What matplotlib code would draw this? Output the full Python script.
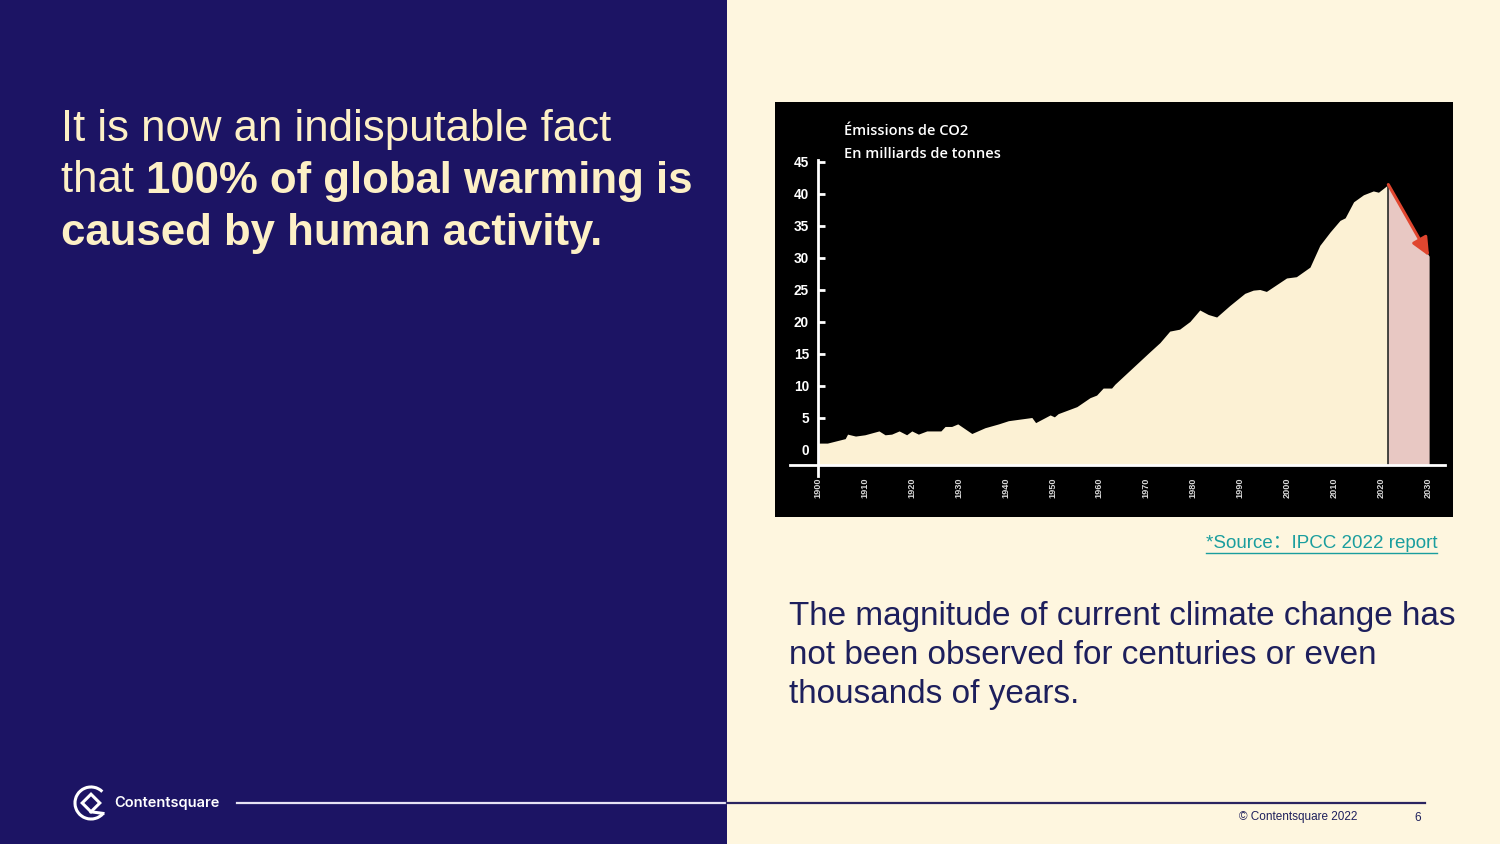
import matplotlib
matplotlib.use("Agg")
import matplotlib.pyplot as plt
from matplotlib.patches import Rectangle, Arc, Polygon

# ---------------- data ----------------
years = [1900, 1902, 1905.8, 1906.3, 1908, 1910, 1913, 1914.3, 1915.7, 1917.3,
         1918.9, 1920, 1921.4, 1923.2, 1926.2, 1927.1, 1928.5, 1929.8, 1932.8,
         1935.6, 1938.5, 1940.6, 1945.6, 1946.4, 1949.5, 1950.4, 1951.2, 1955.2,
         1958, 1959.4, 1960.8, 1962.6, 1963.3, 1970.8, 1972.9, 1975, 1977.1,
         1979.3, 1981.4, 1983.2, 1985, 1987.8, 1991, 1992.8, 1994.2, 1995.6,
         1999.9, 2002, 2004.9, 2007, 2009.2, 2011.3, 2012.4, 2014.2, 2016.3,
         2018.4, 2019.5, 2021.6]
emissions = [1.0, 1.0, 1.7, 2.4, 2.1, 2.3, 2.9, 2.3, 2.4, 2.9,
             2.3, 2.9, 2.4, 2.9, 2.9, 3.6, 3.6, 4.0, 2.5,
             3.4, 4.0, 4.5, 5.0, 4.2, 5.4, 5.1, 5.6, 6.7,
             8.1, 8.5, 9.6, 9.6, 10.2, 15.3, 16.7, 18.5, 18.8,
             20.0, 21.8, 21.1, 20.7, 22.5, 24.4, 24.9, 25.0, 24.7,
             26.8, 27.0, 28.5, 31.9, 34.0, 35.8, 36.2, 38.7, 39.8,
             40.4, 40.2, 41.4]
proj_years = [2021.6, 2030.3]
proj_values = [41.4, 30.2]
x_ticks = list(range(1900, 2031, 10))
y_ticks = list(range(0, 46, 5))

W, H = 1500, 844
NAVY = "#1c1464"
CREAM_BG = "#fef6df"
CREAM_TXT = "#fdf0c6"

fig = plt.figure(figsize=(15, 8.44), dpi=100)
fig.patch.set_facecolor(CREAM_BG)

def fx(x): return x / W
def fy(y): return 1 - y / H

# left navy panel
fig.patches.append(Rectangle((0, 0), fx(727), 1, transform=fig.transFigure,
                             facecolor=NAVY, edgecolor="none", zorder=-10))

# ---------------- chart ----------------
bx0, by0, bx1, by1 = 775, 102, 1453, 517
ax = fig.add_axes([fx(bx0), fy(by1), fx(bx1 - bx0), (by1 - by0) / H])
ax.set_facecolor("black")
px_per_year = 4.69
px_per_unit = 6.4
x0px, y0px = 818, 449.5
ax.set_xlim(1900 - (x0px - bx0) / px_per_year, 1900 + (bx1 - x0px) / px_per_year)
ax.set_ylim(-(by1 - y0px) / px_per_unit, (y0px - by0) / px_per_unit)
baseline = -(465 - y0px) / px_per_unit

FILL = "#fcf1d4"
ax.fill_between(years, emissions, baseline, color=FILL, lw=0, zorder=2)
ax.fill_between(proj_years, proj_values, baseline, color="#e8c8c3", lw=0, zorder=2)
ax.plot([proj_years[0], proj_years[0]], [baseline, proj_values[0]],
        color="#2a2a2a", lw=1.2, zorder=3)
ax.annotate("", xy=(proj_years[1], proj_values[1]), xytext=(proj_years[0], proj_values[0]),
            arrowprops=dict(arrowstyle="-|>,head_length=1.1,head_width=0.5",
                            color="#e0462f", lw=2.2, shrinkA=0, shrinkB=0), zorder=4)

for s in ["top", "right"]:
    ax.spines[s].set_visible(False)
ax.spines["left"].set_position(("data", 1900))
ax.spines["left"].set_bounds(-(476 - y0px) / px_per_unit, 45.3)
ax.spines["bottom"].set_position(("data", baseline))
ax.spines["bottom"].set_bounds(1900 - (818 - 790) / px_per_year, 1900 + (1445 - 818) / px_per_year)
for s in ["left", "bottom"]:
    ax.spines[s].set_color("white")
    ax.spines[s].set_linewidth(2)
    ax.spines[s].set_zorder(5)

FONT = "Liberation Sans"
ax.set_yticks(y_ticks)
ax.set_yticklabels([str(v) for v in y_ticks], fontsize=9.8, fontweight="bold",
                   color="white", family=FONT)
ax.tick_params(axis="y", direction="in", length=5, width=2, color="white", pad=6.5)
ax.set_xticks(x_ticks)
ax.set_xticklabels([str(v) for v in x_ticks], rotation=90, fontsize=6.6,
                   fontweight="bold", color="#d8d8d8", family=FONT)
ax.tick_params(axis="x", length=0, pad=9)

ax.text(1905.5, (y0px - 131) / px_per_unit, "Émissions de CO2", color="white", fontsize=10.5,
        family="Open Sans", fontweight="semibold", va="center", ha="left")
ax.text(1905.5, (y0px - 154) / px_per_unit, "En milliards de tonnes", color="white", fontsize=10.5,
        family="Open Sans", fontweight="semibold", va="center", ha="left")

# ---------------- texts ----------------
LS = 31.5
fig.text(fx(61), fy(129), "It is now an indisputable fact", color=CREAM_TXT,
         fontsize=LS, family=FONT, va="center", ha="left")
t1 = fig.text(fx(61), fy(181), "that ", color=CREAM_TXT, fontsize=LS,
              family=FONT, va="center", ha="left")
renderer = fig.canvas.get_renderer()
bb = t1.get_window_extent(renderer)
fig.text(bb.x1 / W, fy(181), "100% of global warming is", color=CREAM_TXT,
         fontsize=LS, family=FONT, fontweight="bold", va="center", ha="left")
fig.text(fx(61), fy(233), "caused by human activity.", color=CREAM_TXT,
         fontsize=LS, family=FONT, fontweight="bold", va="center", ha="left")

src = fig.text(fx(1437), fy(544), "*Source：IPCC 2022 report", color="#1a9e9e",
               fontsize=13.5, family=[FONT, "Noto Sans CJK SC"], va="center", ha="right")
sb = src.get_window_extent(renderer)
fig.lines.append(plt.Line2D([sb.x0 / W, sb.x1 / W], [fy(553), fy(553)],
                            transform=fig.transFigure, color="#1a9e9e", lw=1))

NAVY_TXT = "#1d1f5c"
for i, line in enumerate(["The magnitude of current climate change has",
                          "not been observed for centuries or even",
                          "thousands of years."]):
    fig.text(fx(789), fy(616 + 39.5 * i), line, color=NAVY_TXT, fontsize=23.95,
             family=FONT, va="center", ha="left")

# ---------------- footer ----------------
fig.lines.append(plt.Line2D([fx(237), fx(727)], [fy(803), fy(803)],
                            transform=fig.transFigure, color="#e6e2f4", lw=1.6))
fig.lines.append(plt.Line2D([fx(727), fx(1425)], [fy(803), fy(803)],
                            transform=fig.transFigure, color="#2a2460", lw=1.6))
fig.text(fx(1298), fy(817), "© Contentsquare 2022", color=NAVY_TXT, fontsize=8.5,
         family=FONT, va="center", ha="center")
fig.text(fx(1418), fy(818), "6", color=NAVY_TXT, fontsize=8.5,
         family=FONT, va="center", ha="center")

# logo
lax = fig.add_axes([fx(71), fy(823), fx(40), 40 / H])
lax.set_xlim(-1.25, 1.25)
lax.set_ylim(-1.25, 1.25)
lax.set_aspect("equal")
lax.axis("off")
lax.add_patch(Arc((0, 0), 2.0, 2.0, theta1=45, theta2=320, color="white", lw=2.2))
lax.add_patch(Polygon([(-0.55, 0.0), (0.0, 0.55), (0.55, 0.0), (0.0, -0.55)],
                      closed=True, fill=False, edgecolor="white", lw=2.2))
lax.plot([0.0, 0.75], [-0.55, -0.65], color="white", lw=2.2)
fig.text(fx(114), fy(803), "Contentsquare", color="white", fontsize=10.5,
         family="Inter", fontweight="semibold", va="center", ha="left")

fig.savefig("out.png", dpi=100, facecolor=fig.get_facecolor())
